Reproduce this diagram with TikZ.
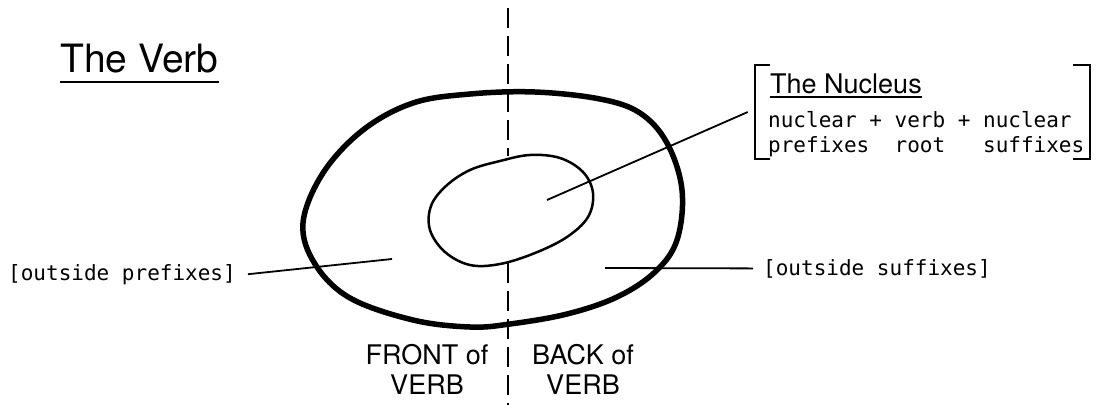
\documentclass[tikz,border=0pt]{standalone}
\usepackage{fontspec}
\setmainfont{TeX Gyre Heros}
\newfontfamily\monofam{DejaVu Sans Mono}
\begin{document}
\begin{tikzpicture}[x=1pt,y=-1pt,
  outerloop/.style={line width=5.5pt},
  innerloop/.style={line width=2.5pt},
  leader/.style={line width=1.8pt},
  divider/.style={line width=2.2pt, dash pattern=on 20pt off 8pt},
  monotxt/.style={font=\monofam\fontsize{21}{25}\selectfont, inner sep=0pt, anchor=base west},
  sanstxt/.style={inner sep=0pt},
  bracketline/.style={line width=2pt},
]
\useasboundingbox (0,0) rectangle (1098,405);

% divider
\coordinate (dtop) at (508,8);
\coordinate (dinA) at (508,156);
\coordinate (dinB) at (508,263);
\coordinate (dbot) at (508,405);
\draw[divider] (dtop) -- (dinA);
\draw[divider] (dinB) -- (dbot);

% outer loop
\draw[outerloop] plot[smooth cycle, tension=0.6] coordinates {
  (535,92) (600,99) (640,113) (667,143) (682,190) (677,240) (655,272)
  (617,297) (567,314) (510,324) (470,327) (413,320) (350,298) (315,264)
  (303,223) (323,173) (363,130) (413,103) (470,94)};

% inner loop
\draw[innerloop] plot[smooth cycle, tension=0.6] coordinates {
  (500,161) (530,155) (560,158) (583,172) (593,193) (588,217) (567,237)
  (535,253) (500,264) (470,265) (445,252) (430,230) (431,206) (446,186) (470,170)};

% title
\node[sanstxt, anchor=base west, font=\fontsize{39}{40}\selectfont] (title) at (60,72) {The Verb};
\draw[line width=2.5pt] ([yshift=-10pt]title.base west) -- ([yshift=-10pt]title.base east);

% nucleus bracket block
\node[minimum width=335pt, minimum height=94pt, inner sep=0pt] (nucbox) at (922.5,112) {};
\draw[bracketline] ([xshift=15pt]nucbox.north west) -- (nucbox.north west) -- (nucbox.south west) -- ([xshift=15pt]nucbox.south west);
\draw[bracketline] ([xshift=-17pt]nucbox.north east) -- (nucbox.north east) -- (nucbox.south east) -- ([xshift=-17pt]nucbox.south east);
\node[sanstxt, anchor=base west, font=\fontsize{27}{30}\selectfont] (nuchead) at (770,93) {The Nucleus};
\draw[line width=1.8pt] ([yshift=-4pt]nuchead.base west) -- ([yshift=-4pt]nuchead.base east);
\node[monotxt] (nucla) at (768,127) {nuclear + verb + nuclear};
\node[monotxt] (nuclb) at (768,152) {prefixes\ \ root\ \ \ suffixes};
\coordinate (nucpt) at (547,200);
\draw[leader] (nucpt) -- ([xshift=-7pt]nucbox.west);

% outside prefixes
\node[monotxt] (pre) at (8,280) {[outside prefixes]};
\coordinate (prept) at (392,259);
\draw[leader] ([xshift=12pt]pre.east) -- (prept);

% outside suffixes
\node[monotxt] (suf) at (763,275) {[outside suffixes]};
\coordinate (sufpt) at (605,268);
\draw[leader] (sufpt) -- ([xshift=-10pt]suf.west);

% front / back
\node[sanstxt, anchor=north, align=center, font=\fontsize{27}{30}\selectfont] (front) at (427,344) {FRONT of\\VERB};
\node[sanstxt, anchor=north, align=center, font=\fontsize{27}{30}\selectfont] (back) at (583,344) {BACK of\\VERB};
\end{tikzpicture}
\end{document}
